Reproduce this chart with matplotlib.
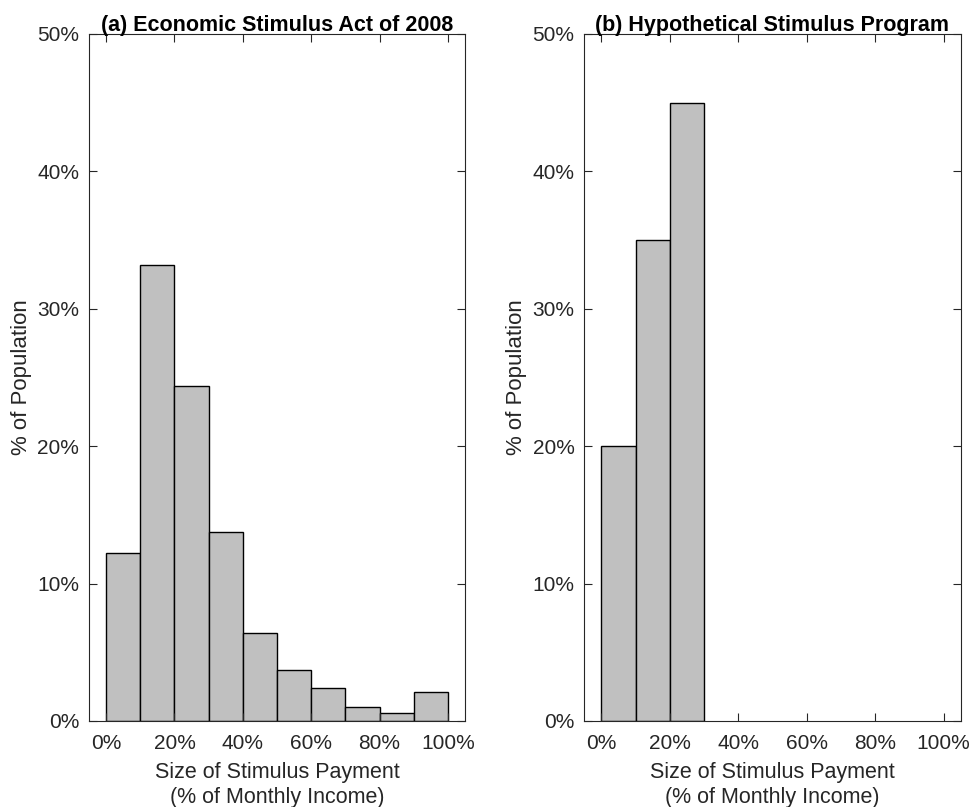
import matplotlib
matplotlib.use("Agg")
import matplotlib.pyplot as plt
import numpy as np

plt.rcParams['font.family'] = ['Liberation Sans', 'DejaVu Sans']

bin_edges_a = [0, 10, 20, 30, 40, 50, 60, 70, 80, 90]
share_a = [12.23, 33.19, 24.38, 13.76, 6.38, 3.73, 2.38, 1.04, 0.58, 2.11]
bin_edges_b = [0, 10, 20]
share_b = [20.0, 35.0, 45.0]
bin_width = 10
titles = ["(a) Economic Stimulus Act of 2008", "(b) Hypothetical Stimulus Program"]
xticks = [0, 20, 40, 60, 80, 100]
yticks = [0, 10, 20, 30, 40, 50]
xlabel = "Size of Stimulus Payment\n(% of Monthly Income)"
ylabel = "% of Population"

fig = plt.figure(figsize=(9.72, 8.07), dpi=100)
axc = '#262626'
positions = [[0.0916, 0.1066, 0.3868, 0.8513], [0.6011, 0.1066, 0.3872, 0.8513]]
data = [(bin_edges_a, share_a), (bin_edges_b, share_b)]
for pos, (edges, vals), title in zip(positions, data, titles):
    ax = fig.add_axes(pos)
    ax.bar(edges, vals, width=bin_width, align='edge', color='#c0c0c0',
           edgecolor='black', linewidth=1.0)
    ax.set_xlim(-5, 105)
    ax.set_ylim(0, 50)
    ax.set_xticks(xticks)
    ax.set_xticklabels([f"{t}%" for t in xticks])
    ax.set_yticks(yticks)
    ax.set_yticklabels([f"{t}%" for t in yticks])
    ax.tick_params(direction='in', top=True, right=True, length=5.5, width=0.8,
                   colors=axc, labelsize=15, labelcolor=axc)
    ax.tick_params(axis='x', pad=9.5)
    ax.tick_params(axis='y', pad=7)
    for s in ax.spines.values():
        s.set_color(axc)
        s.set_linewidth(0.8)
    ax.set_title(title, fontsize=15.5, fontweight='bold', pad=2)
    ax.set_xlabel(xlabel, fontsize=15.5, color=axc, linespacing=1.25, labelpad=6.5)
    ax.set_ylabel(ylabel, fontsize=16, color=axc, labelpad=4)

fig.savefig("out.png", dpi=100)
